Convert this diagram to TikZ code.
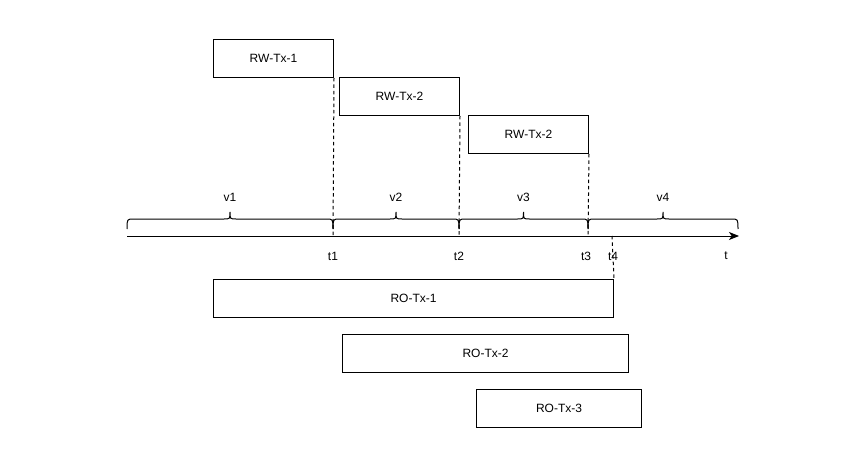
\documentclass[tikz,border=0pt]{standalone}
\usepackage{fontspec}
\setmainfont{Liberation Sans}
\usetikzlibrary{arrows.meta}
\begin{document}
\begin{tikzpicture}[x=0.75pt,y=-0.75pt,
  line width=0.75pt,
  txbox/.style={draw=black,fill=white,minimum height=38*0.75pt,inner sep=0pt,font=\fontsize{9}{11}\selectfont,anchor=north west},
  lbl/.style={font=\fontsize{9}{11}\selectfont,inner sep=0pt},
  guide/.style={dash pattern=on 2.6pt off 2.2pt,line width=0.75pt}]
\useasboundingbox[fill=white] (0,0) rectangle (868,467);
% RW transactions
\node[txbox,minimum width=120*0.75pt] (rw1) at (213,39) {RW-Tx-1};
\node[txbox,minimum width=120*0.75pt] (rw2) at (339,77) {RW-Tx-2};
\node[txbox,minimum width=120*0.75pt] (rw3) at (468,115) {RW-Tx-2};
% RO transactions
\node[txbox,minimum width=400*0.75pt] (ro1) at (213,279) {RO-Tx-1};
\node[txbox,minimum width=286*0.75pt] (ro2) at (342,334) {RO-Tx-2};
\node[txbox,minimum width=165*0.75pt] (ro3) at (476,389) {RO-Tx-3};
% axis
\coordinate (a0) at (127,236);
\coordinate (aend) at (739,236);
\draw[-{Stealth[length=7.5pt,width=6pt,inset=2pt]}] (a0) -- (aend);
\coordinate (c1) at (333,236);
\coordinate (c2) at (459,236);
\coordinate (c3) at (588,236);
\coordinate (c4) at (612,236);
% guide lines
\draw[guide] (rw1.south east) -- (c1);
\draw[guide] (rw2.south east) -- (c2);
\draw[guide] (rw3.south east) -- (c3);
\draw[guide] (c4) -- (ro1.north east);
% braces
\foreach \a/\b/\v in {127/333/v1,333/459/v2,459/588/v3,588/738/v4}{
  \pgfmathsetmacro{\m}{(\a+\b)/2}
  \draw (\a,229) .. controls (\a,219) .. (\a+7,219) -- (\m-6,219)
        .. controls (\m,219) .. (\m,212) .. controls (\m,219) .. (\m+6,219)
        -- (\b-7,219) .. controls (\b,219) .. (\b,229);
  \node[lbl] (\v) at (\m,197) {\v};
}
% time labels
\node[lbl] (t1) at (333,256) {t1};
\node[lbl] (t2) at (459,256) {t2};
\node[lbl] (t3) at (586,256) {t3};
\node[lbl] (t4) at (613,256) {t4};
\node[lbl] (t) at (726,256) {t};
\end{tikzpicture}
\end{document}
